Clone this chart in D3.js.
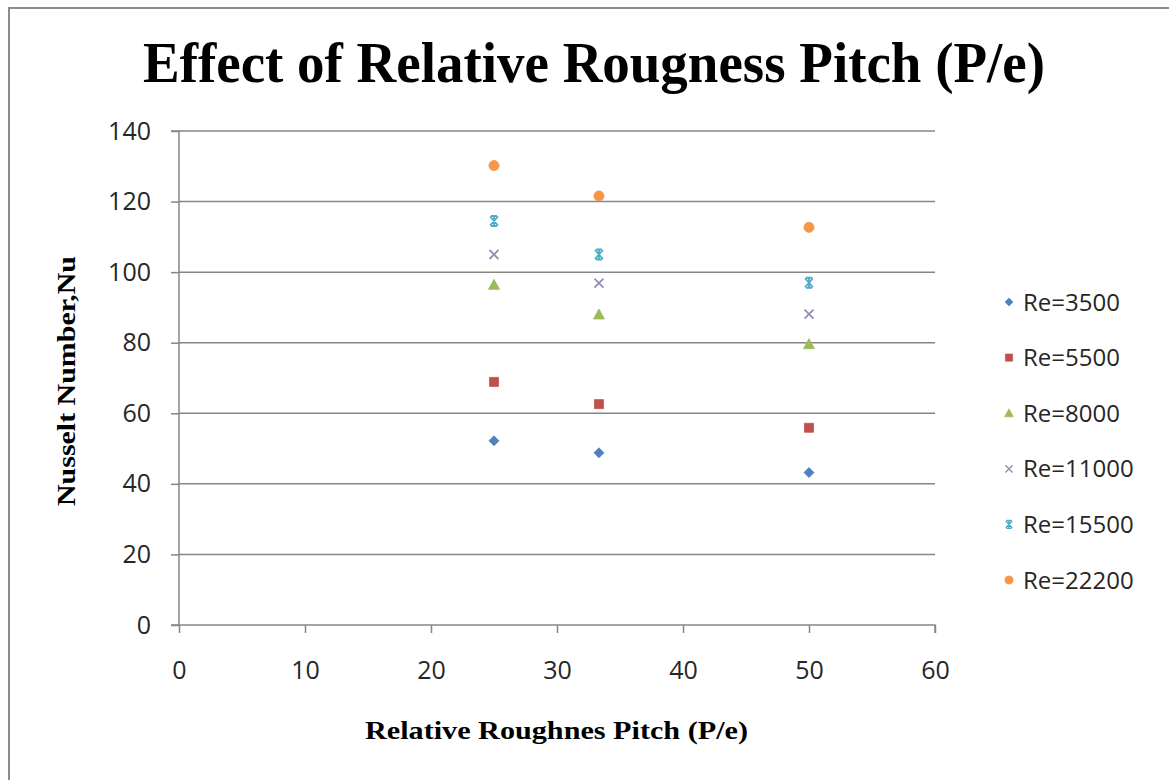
<!DOCTYPE html>
<html>
<head>
<meta charset="utf-8">
<script src="https://cdn.jsdelivr.net/npm/d3@7"></script>
<style>
  html, body { margin: 0; padding: 0; background: #fff; }
  svg { display: block; }
</style>
</head>
<body>
<svg id="chart" width="1169" height="780"></svg>
<script>
// Relative roughness pitch values (P/e)
const pitch = [25, 33.33, 50];

// Nusselt number for each Reynolds number
const reLabels = ["Re=3500", "Re=5500", "Re=8000", "Re=11000", "Re=15500", "Re=22200"];
const nu3500  = [52.2, 48.8, 43.2];
const nu5500  = [68.9, 62.6, 55.9];
const nu8000  = [96.4, 88.0, 79.6];
const nu11000 = [105.0, 96.9, 88.1];
const nu15500 = [114.5, 105.0, 97.0];
const nu22200 = [130.2, 121.6, 112.7];

const xTicks = [0, 10, 20, 30, 40, 50, 60];
const yTicks = [0, 20, 40, 60, 80, 100, 120, 140];

const seriesValues = [nu3500, nu5500, nu8000, nu11000, nu15500, nu22200];
const colors = ["#4F81BD", "#C0504D", "#9BBB59", "#9090B8", "#4BACC6", "#F79646"];
const shapes = ["diamond", "square", "triangle", "x", "star", "circle"];

const series = reLabels.map((name, i) => ({
  name, color: colors[i], shape: shapes[i],
  points: pitch.map((p, j) => ({ x: p, y: seriesValues[i][j] }))
}));

const svg = d3.select("#chart");

// outer chart frame
svg.append("rect")
  .attr("x", 9).attr("y", 8).attr("width", 1180).attr("height", 800)
  .attr("fill", "#fff").attr("stroke", "#8c8c8c").attr("stroke-width", 2);

const x = d3.scaleLinear().domain([0, 60]).range([179, 935]);
const y = d3.scaleLinear().domain([0, 140]).range([625, 131]);

const gridColor = "#868686";
const tickFont = "'Open Sans', 'Liberation Sans', sans-serif";

// horizontal gridlines
svg.append("g").selectAll("line")
  .data(yTicks.filter(t => t > 0))
  .join("line")
  .attr("x1", x(0)).attr("x2", x(60))
  .attr("y1", d => y(d)).attr("y2", d => y(d))
  .attr("stroke", gridColor).attr("stroke-width", 1.5);

// y axis
const yAxis = svg.append("g")
  .attr("transform", `translate(${x(0)},0)`)
  .call(d3.axisLeft(y).tickValues(yTicks).tickSize(8).tickPadding(20));
// x axis
const xAxis = svg.append("g")
  .attr("transform", `translate(0,${y(0)})`)
  .call(d3.axisBottom(x).tickValues(xTicks).tickSize(8).tickPadding(28));

[yAxis, xAxis].forEach(g => {
  g.select(".domain").attr("stroke", gridColor).attr("stroke-width", 1.5);
  g.selectAll(".tick line").attr("stroke", gridColor).attr("stroke-width", 1.5);
  g.selectAll(".tick text")
    .attr("fill", "#262626")
    .style("font-family", tickFont)
    .style("font-size", "25px");
});
// extend the x axis line left across the y tick length
xAxis.select(".domain").attr("d", `M${x(0) - 8},0H${x(60)}V8`);
yAxis.select(".domain").attr("d", `M-8,${y(140)}H0V${y(0)}`);

// marker shapes
function markerPath(shape) {
  switch (shape) {
    case "diamond": return "M0,-5L5,0L0,5L-5,0Z";
    case "square": return "M-4.5,-4.5H4.5V4.5H-4.5Z";
    case "triangle": return "M0,-5.5L5.5,4.5H-5.5Z";
    case "circle": return d3.symbol(d3.symbolCircle, 80)();
    case "x": return "M-4.5,-4.5L4.5,4.5M4.5,-4.5L-4.5,4.5";
    case "star": return "M-4,-4.5L4,4.5M4,-4.5L-4,4.5M0,-5V5M-3,-5H3M-3,5H3";
  }
}
function drawMarker(sel, s) {
  const lineOnly = s.shape === "x" || s.shape === "star";
  sel.append("path")
    .attr("d", markerPath(s.shape))
    .attr("fill", lineOnly ? "none" : s.color)
    .attr("stroke", s.color)
    .attr("stroke-width", lineOnly ? 1.8 : 0.8);
}

// data points
const plot = svg.append("g");
series.forEach(s => {
  plot.append("g").selectAll("g")
    .data(s.points)
    .join("g")
    .attr("transform", d => `translate(${x(d.x)},${y(d.y)})`)
    .each(function () { drawMarker(d3.select(this), s); });
});

// legend
const legend = svg.append("g");
series.forEach((s, i) => {
  const g = legend.append("g").attr("transform", `translate(1009,${302 + i * 55.6})`);
  const m = g.append("g").attr("transform", "scale(0.8)");
  drawMarker(m, s);
  g.append("text")
    .attr("x", 14).attr("y", 0).attr("dy", "0.36em")
    .attr("fill", "#262626")
    .style("font-family", tickFont)
    .style("font-size", "24px")
    .text(s.name);
});

// title
svg.append("text")
  .attr("x", 143).attr("y", 82)
  .attr("textLength", 902).attr("lengthAdjust", "spacingAndGlyphs")
  .style("font-family", "'Liberation Serif', 'Times New Roman', serif")
  .style("font-weight", "bold").style("font-size", "56px")
  .text("Effect of Relative Rougness Pitch (P/e)");

// axis titles
svg.append("text")
  .attr("x", 365).attr("y", 739)
  .attr("textLength", 383).attr("lengthAdjust", "spacingAndGlyphs")
  .style("font-family", "'Liberation Serif', 'Times New Roman', serif")
  .style("font-weight", "bold").style("font-size", "25px")
  .text("Relative Roughnes Pitch (P/e)");

svg.append("text")
  .attr("transform", "translate(75,506) rotate(-90)")
  .attr("textLength", 250).attr("lengthAdjust", "spacingAndGlyphs")
  .style("font-family", "'Liberation Serif', 'Times New Roman', serif")
  .style("font-weight", "bold").style("font-size", "26px")
  .text("Nusselt Number,Nu");
</script>
</body>
</html>
